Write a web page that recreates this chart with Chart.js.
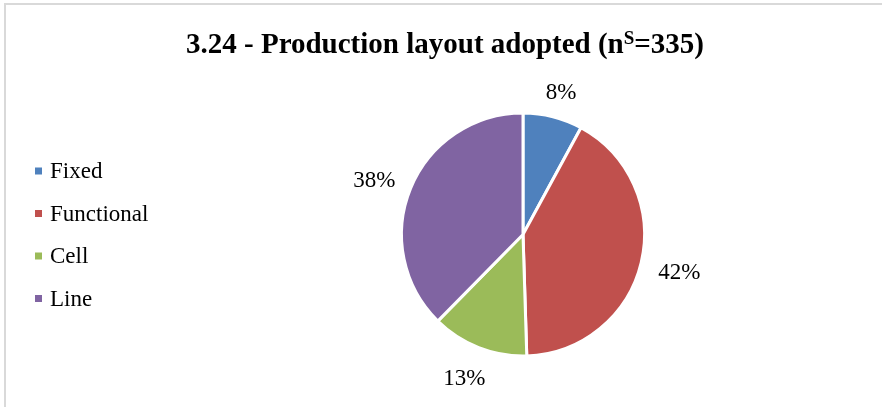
<!DOCTYPE html>
<html>
<head>
<meta charset="utf-8">
<script src="https://cdn.jsdelivr.net/npm/chart.js@4.4.1/dist/chart.umd.min.js"></script>
<style>
    html, body { margin: 0; padding: 0; background: #fff; }
    #wrap {
        position: relative;
        width: 882px;
        height: 407px;
        overflow: hidden;
    }
    #frame {
        position: absolute;
        left: 4px;
        top: 3px;
        width: 890px;
        height: 420px;
        border-left: 2px solid #d9d9d9;
        border-top: 2px solid #d9d9d9;
    }
    canvas { position: absolute; left: 0; top: 0; }
</style>
</head>
<body>
<div id="wrap">
    <div id="frame"></div>
    <canvas id="layoutChart" width="882" height="407"></canvas>
</div>
<script>
const layoutTypes = ['Fixed', 'Functional', 'Cell', 'Line'];
const layoutShares = [8, 42, 13, 38];
const sliceColors = ['#4F81BD', '#C0504D', '#9BBB59', '#8064A2'];

const SERIF = '"Liberation Serif", "Times New Roman", serif';

// title, legend and the outside percentage labels are painted by hand
const decorations = {
    id: 'decorations',
    afterDraw(chart) {
        const ctx = chart.ctx;
        ctx.save();
        ctx.fillStyle = '#000';

        // title with superscript S
        const parts = [
            { text: '3.24 - Production layout adopted (n', size: 29, rise: 0 },
            { text: 'S', size: 19, rise: 9 },
            { text: '=335)', size: 29, rise: 0 }
        ];
        let total = 0;
        parts.forEach(p => {
            ctx.font = `bold ${p.size}px ${SERIF}`;
            p.w = ctx.measureText(p.text).width;
            total += p.w;
        });
        let x = 445 - total / 2;
        ctx.textBaseline = 'alphabetic';
        ctx.textAlign = 'left';
        parts.forEach(p => {
            ctx.font = `bold ${p.size}px ${SERIF}`;
            ctx.fillText(p.text, x, 53 - p.rise);
            x += p.w;
        });

        // legend
        ctx.font = `23px ${SERIF}`;
        ctx.textBaseline = 'middle';
        layoutTypes.forEach((name, i) => {
            const y = 171 + i * 42.5;
            ctx.fillStyle = sliceColors[i];
            ctx.fillRect(35, y - 3.5, 7, 7);
            ctx.fillStyle = '#000';
            ctx.fillText(name, 50, y + 1);
        });

        // percentage labels outside each slice
        const meta = chart.getDatasetMeta(0);
        ctx.textAlign = 'center';
        meta.data.forEach((arc, i) => {
            const mid = (arc.startAngle + arc.endAngle) / 2;
            const dx = Math.cos(mid), dy = Math.sin(mid);
            const label = layoutShares[i] + '%';
            const w = ctx.measureText(label).width;
            const h = 22;
            const dist = arc.outerRadius + 18;
            const cx = arc.x + dist * dx + dx * w / 2;
            const cy = arc.y + dist * dy + dy * h / 2;
            ctx.fillText(label, cx, cy + 4);
        });

        ctx.restore();
    }
};

new Chart(document.getElementById('layoutChart').getContext('2d'), {
    type: 'pie',
    data: {
        labels: layoutTypes,
        datasets: [{
            data: layoutShares,
            backgroundColor: sliceColors,
            borderColor: '#ffffff',
            borderWidth: 3
        }]
    },
    options: {
        responsive: false,
        animation: false,
        layout: {
            padding: { left: 400, right: 236, top: 111, bottom: 49 }
        },
        plugins: {
            legend: { display: false },
            title: { display: false },
            tooltip: { enabled: false }
        }
    },
    plugins: [decorations]
});
</script>
</body>
</html>
